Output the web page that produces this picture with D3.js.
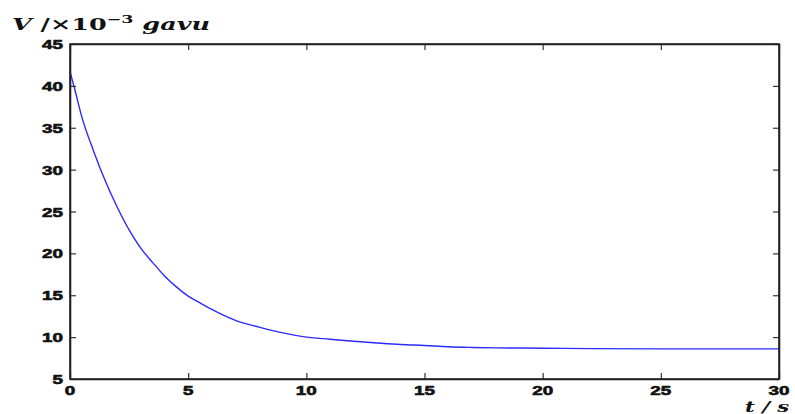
<!DOCTYPE html>
<html>
<head>
<meta charset="utf-8">
<script src="https://cdn.jsdelivr.net/npm/d3@7"></script>
<style>
  body { margin: 0; background: #fff; }
  svg { display: block; }
</style>
</head>
<body>
<div id="chart"></div>
<script>
// values
var times  = [0, 0.2, 0.5, 1, 1.5, 2, 2.5, 3, 3.5, 4, 4.5, 5, 5.5, 6, 7, 8, 9, 10, 11, 12, 13, 14, 15, 16, 17, 18, 20, 22, 25, 30];
var volts  = [41.7, 39.6, 36.3, 32.2, 28.6, 25.5, 22.8, 20.6, 18.9, 17.3, 16.0, 14.9, 14.1, 13.3, 12.0, 11.2, 10.5, 10.0, 9.75, 9.5, 9.3, 9.12, 9.0, 8.85, 8.77, 8.72, 8.68, 8.63, 8.6, 8.6];
var xTicks = [0, 5, 10, 15, 20, 25, 30];
var yTicks = [5, 10, 15, 20, 25, 30, 35, 40, 45];

var W = 795, H = 414;
var margin = { top: 44, right: 16, bottom: 35, left: 70 };
var width = W - margin.left - margin.right,
    height = H - margin.top - margin.bottom;

var svg = d3.select("#chart").append("svg")
    .attr("width", W)
    .attr("height", H);

var g = svg.append("g")
    .attr("transform", "translate(" + margin.left + "," + margin.top + ")");

var x = d3.scaleLinear().domain([0, 30]).range([0, width]);
var y = d3.scaleLinear().domain([5, 45]).range([height, 0]);

var data = times.map(function (t, i) { return { t: t, v: volts[i] }; });

// curve
var line = d3.line()
    .x(function (d) { return x(d.t); })
    .y(function (d) { return y(d.v); })
    .curve(d3.curveMonotoneX);

g.append("path")
    .datum(data)
    .attr("fill", "none")
    .attr("stroke", "#2b2bff")
    .attr("stroke-width", 1.4)
    .attr("d", line);

// inward ticks on all four sides, matlab style
var tickLen = 6;
g.append("g").attr("class", "x axis")
    .attr("transform", "translate(0," + height + ")")
    .call(d3.axisBottom(x).tickValues(xTicks).tickSizeInner(-tickLen).tickSizeOuter(0).tickFormat(""));
g.append("g").attr("class", "x axis top")
    .call(d3.axisTop(x).tickValues(xTicks).tickSizeInner(-tickLen).tickSizeOuter(0).tickFormat(""));
g.append("g").attr("class", "y axis")
    .call(d3.axisLeft(y).tickValues(yTicks).tickSizeInner(-tickLen).tickSizeOuter(0).tickFormat(""));
g.append("g").attr("class", "y axis right")
    .attr("transform", "translate(" + width + ",0)")
    .call(d3.axisRight(y).tickValues(yTicks).tickSizeInner(-tickLen).tickSizeOuter(0).tickFormat(""));

g.selectAll(".axis path").attr("stroke", "#222").attr("stroke-width", 1.6);
g.selectAll(".axis line").attr("stroke", "#333").attr("stroke-width", 1.2);

// box
g.append("rect")
    .attr("width", width).attr("height", height)
    .attr("fill", "none").attr("stroke", "#222").attr("stroke-width", 1.6);

// tick labels - heavy, stretched wide like the picture
function label(px, py, txt, anchor) {
    var t = svg.append("text")
        .attr("transform", "translate(" + px + "," + py + ") scale(1.45,1)")
        .attr("text-anchor", anchor)
        .style("font-family", "'Liberation Sans', Arial, sans-serif")
        .style("font-weight", "bold")
        .style("font-size", "13px")
        .attr("fill", "#111")
        .attr("stroke", "#111")
        .attr("stroke-width", 0.6)
        .text(txt);
    return t;
}
yTicks.forEach(function (v) {
    label(margin.left - 7, margin.top + y(v) + 5, v, "end");
});
xTicks.forEach(function (v) {
    label(margin.left + x(v), margin.top + height + 16, v, "middle");
});

// axis titles
var serif = "'DejaVu Serif', 'Liberation Serif', serif";
var yt = svg.append("text")
    .attr("x", 0).attr("y", 0)
    .style("font-family", serif)
    .style("font-weight", "bold")
    .style("font-size", "16px")
    .attr("fill", "#111");
yt.append("tspan").style("font-style", "italic").text("V");
yt.append("tspan").text(" /\u00d710");
yt.append("tspan").attr("dy", -7).style("font-size", "11px").text("\u22123");
yt.append("tspan").attr("dy", 7).style("font-style", "italic").text(" gavu");
var bb = yt.node().getBBox();
yt.attr("transform", "translate(12,30) scale(" + (198 / bb.width) + ",1)");

var xt = svg.append("text")
    .style("font-family", serif)
    .style("font-weight", "bold")
    .style("font-style", "italic")
    .style("font-size", "15px")
    .attr("fill", "#111")
    .text("t / s");
var bx = xt.node().getBBox();
xt.attr("transform", "translate(745,412) scale(" + (45 / bx.width) + ",1)");
</script>
</body>
</html>
